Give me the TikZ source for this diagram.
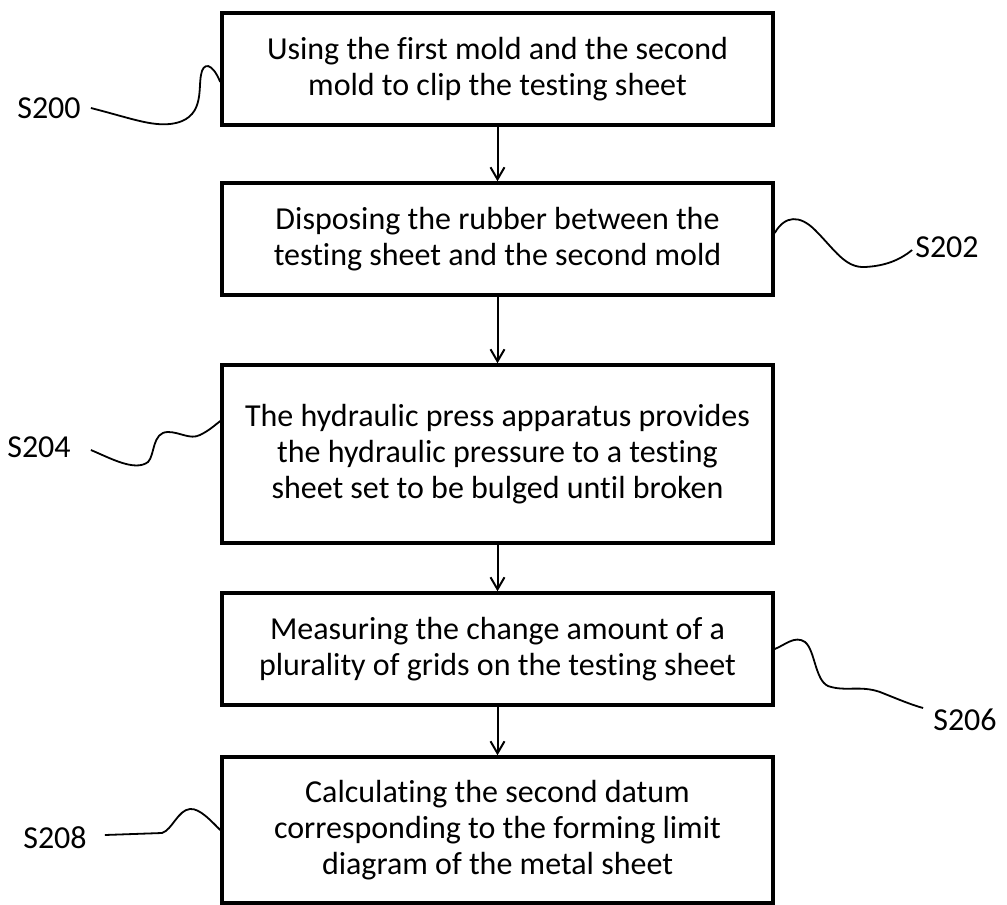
\documentclass[tikz,border=0pt]{standalone}
\usepackage{fontspec}
\setmainfont{Carlito}[Ligatures=NoCommon]
\usetikzlibrary{arrows.meta}
\begin{document}
\begin{tikzpicture}[x=1pt,y=-1pt,
  stepbox/.style={draw,line width=3.5pt,minimum width=551pt,align=center,inner sep=0pt,
    font=\fontsize{32}{36}\selectfont},
  lab/.style={inner sep=0pt,font=\fontsize{32}{36}\selectfont},
  flow/.style={line width=2pt,-{Straight Barb[length=12pt,width=14pt,line width=2pt]}},
  squig/.style={line width=1.8pt}]
\useasboundingbox (0,0) rectangle (1007,905);
\node[stepbox,minimum height=112pt] (b1) at (497.5,69) {Using the first mold and the second\\mold to clip the testing sheet};
\node[stepbox,minimum height=112pt] (b2) at (497.5,239) {Disposing the rubber between the\\testing sheet and the second mold};
\node[stepbox,minimum height=178pt] (b3) at (497.5,454) {The hydraulic press apparatus provides\\the hydraulic pressure to a testing\\sheet set to be bulged until broken};
\node[stepbox,minimum height=112pt] (b4) at (497.5,649) {Measuring the change amount of a\\plurality of grids on the testing sheet};
\node[stepbox,minimum height=146pt] (b5) at (497.5,830) {Calculating the second datum\\corresponding to the forming limit\\diagram of the metal sheet};
\draw[flow] (b1) -- (b2);
\draw[flow] (b2) -- (b3);
\draw[flow] (b3) -- (b4);
\draw[flow] (b4) -- (b5);
\node[lab] (l200) at (49,108) {S200};
\node[lab] (l202) at (947,247) {S202};
\node[lab] (l204) at (39,447) {S204};
\node[lab] (l206) at (965,720) {S206};
\node[lab] (l208) at (55,838) {S208};
\draw[squig] ([xshift=10pt]l200.east) .. controls (130,118) and (150,126) .. (170,124) .. controls (205,120) and (198,90) .. (201,75) .. controls (203,62) and (212,62) .. ([yshift=-13pt]b1.west);
\draw[squig] ([yshift=6pt]b2.east) .. controls (785,215) and (800,215) .. (815,230) .. controls (835,250) and (845,268) .. (865,267) .. controls (885,266) and (900,260) .. ([xshift=-3pt,yshift=-3pt]l202.west);
\draw[squig] ([xshift=20pt,yshift=-3pt]l204.east) .. controls (110,458) and (135,472) .. (148,462) .. controls (155,455) and (152,432) .. (168,432) .. controls (180,432) and (190,440) .. (200,435) .. controls (210,430) and (215,425) .. ([yshift=33pt]b3.west);
\draw[squig] (b4.east) .. controls (785,645) and (795,635) .. (805,642) .. controls (815,650) and (815,680) .. (828,686) .. controls (845,692) and (860,685) .. (880,692) .. controls (900,700) and (912,705) .. ([xshift=-10pt,yshift=12pt]l206.west);
\draw[squig] ([xshift=18pt,yshift=3pt]l208.east) -- (162,833) .. controls (172,830) and (178,810) .. (190,809) .. controls (200,808) and (212,822) .. (b5.west);
\end{tikzpicture}
\end{document}
